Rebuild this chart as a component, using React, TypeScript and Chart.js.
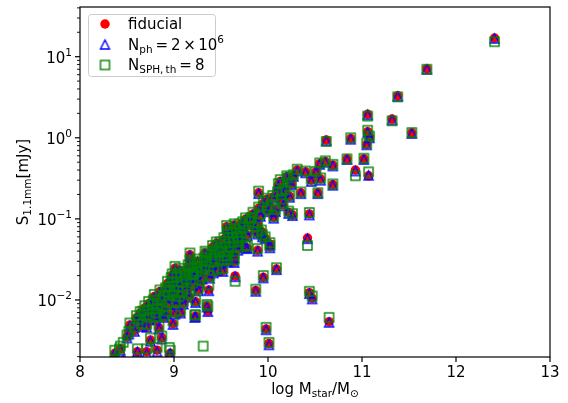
import React, { useEffect, useRef } from 'react';
import { Chart, registerables } from 'chart.js';

Chart.register(...registerables);

// ---- data (log stellar mass, 1.1mm flux in mJy for three runs) ----
const logMstar = [
  12.41, 11.69, 11.38, 11.32, 11.53, 11.06, 11.06, 11.08, 11.05, 10.62,
  10.88, 10.84, 11.02, 10.93, 11.07, 10.69, 10.53, 10.35, 10.18, 10.31,
  10.40, 10.51, 10.56, 10.61, 10.55, 10.69, 10.46, 10.21, 10.25, 10.20,
  10.27, 10.23, 10.15, 10.10, 9.90, 9.99, 10.14, 9.90, 10.03, 10.08,
  10.16, 10.22, 10.26, 10.44, 10.06, 9.76, 9.82, 9.89, 10.42, 9.93,
  9.94, 9.97, 10.02, 9.89, 9.76, 9.64, 9.57, 9.65, 9.95, 10.09,
  9.87, 10.44, 10.47, 10.65, 10.01, 9.98, 9.36, 9.31, 9.23, 9.07,
  8.99, 8.95, 8.37, 9.78, 9.89, 10.02,
  9.82, 9.73, 9.64, 9.60, 9.57, 9.78, 9.69, 9.49, 9.46, 9.35,
  9.25, 9.64, 9.53, 9.33, 9.17, 9.01, 8.98, 8.93, 8.85, 8.78,
  9.46, 9.37, 9.35, 9.26, 9.23, 9.10, 8.98, 8.77, 8.64, 8.53,
  8.52, 8.43, 8.37, 8.61, 8.71, 8.82, 8.96, 8.75, 8.87, 9.01,
  8.71, 8.84, 8.89, 9.56, 9.45, 9.17, 8.50, 8.67, 9.22, 9.56,
  8.42, 8.46,
  8.62, 8.66, 8.68, 8.72, 8.74, 8.80, 8.82, 8.86, 8.88, 8.90,
  8.93, 8.94, 8.96, 8.99, 9.00, 9.03, 9.04, 9.05, 9.07, 9.08,
  9.12, 9.13, 9.14, 9.18, 9.19, 9.20, 9.22, 9.24, 9.28, 9.29,
  9.30, 9.32, 9.33, 9.39, 9.40, 9.42, 9.43, 9.50, 9.51, 9.53,
  9.55, 9.59, 9.61, 9.62, 9.66, 9.67, 9.70, 9.71, 9.74, 9.80,
  9.84, 9.86, 9.92, 9.95, 10.00, 10.05, 10.11, 10.13,
  8.58, 8.60, 8.69, 8.73, 8.79, 8.81, 8.85, 8.91, 8.92, 8.97,
  9.02, 9.06, 9.09, 9.11, 9.15, 9.16, 9.21, 9.25, 9.27, 9.34,
  9.38, 9.41, 9.44, 9.48, 9.52, 9.58, 9.63, 9.68, 9.72,
];

const sFiducial = [
  17.0, 7.1, 3.3, 1.70, 1.15, 1.95, 1.19, 1.03, 0.83, 0.94,
  0.98, 0.55, 0.55, 0.40, 0.34, 0.265, 0.21, 0.21, 0.22, 0.40,
  0.38, 0.38, 0.31, 0.51, 0.48, 0.46, 0.30, 0.31, 0.27, 0.33,
  0.34, 0.19, 0.215, 0.21, 0.21, 0.175, 0.17, 0.135, 0.14, 0.126,
  0.149, 0.12, 0.112, 0.115, 0.105, 0.099, 0.10, 0.087, 0.058, 0.070,
  0.061, 0.058, 0.049, 0.041, 0.045, 0.0297, 0.030, 0.0198, 0.019, 0.0241,
  0.0131, 0.0123, 0.0105, 0.0054, 0.0029, 0.0044, 0.0073, 0.0016, 0.0063, 0.0070,
  0.0051, 0.0021, 0.0019, 0.0435, 0.066, 0.045,
  0.097, 0.089, 0.084, 0.073, 0.066, 0.063, 0.050, 0.050, 0.041, 0.036,
  0.030, 0.034, 0.034, 0.038, 0.0297, 0.0246, 0.0203, 0.016, 0.0127, 0.0095,
  0.0234, 0.0133, 0.0084, 0.0133, 0.0095, 0.0091, 0.011, 0.0085, 0.0069, 0.0049,
  0.0039, 0.0025, 0.0022, 0.0023, 0.0023, 0.0024, 0.0022, 0.0032, 0.0034, 0.0069,
  0.0047, 0.0045, 0.0062, 0.080, 0.050, 0.036, 0.0035, 0.0069, 0.0062, 0.0337,
  0.0017, 0.0018,
  0.0055, 0.0048, 0.0062, 0.0072, 0.0058, 0.0066, 0.0081, 0.0095, 0.0078, 0.0108,
  0.0120, 0.0090, 0.0140, 0.0160, 0.0125, 0.0185, 0.0140, 0.0105, 0.0200, 0.0160,
  0.0215, 0.0175, 0.0130, 0.0240, 0.0195, 0.0155, 0.0270, 0.0215, 0.0280, 0.0230,
  0.0185, 0.0315, 0.0255, 0.0340, 0.0280, 0.0220, 0.0380, 0.0420, 0.0290, 0.0560,
  0.0470, 0.0560, 0.0420, 0.0640, 0.0700, 0.0580, 0.0820, 0.0650, 0.0750, 0.0880,
  0.1150, 0.0760, 0.1100, 0.1550, 0.1250, 0.1850, 0.2600, 0.2900,
  0.0042, 0.0060, 0.0080, 0.0090, 0.0110, 0.0058, 0.0072, 0.0135, 0.0068, 0.0180,
  0.0090, 0.0235, 0.0120, 0.0190, 0.0260, 0.0110, 0.0200, 0.0245, 0.0165, 0.0290,
  0.0190, 0.0450, 0.0310, 0.0370, 0.0230, 0.0380, 0.0490, 0.0420, 0.0560,
];

const sNph = [
  16.8, 7.0, 3.25, 1.66, 1.13, 1.92, 1.17, 1.00, 0.82, 0.92,
  0.96, 0.54, 0.54, 0.39, 0.345, 0.26, 0.205, 0.205, 0.215, 0.39,
  0.37, 0.375, 0.30, 0.50, 0.47, 0.45, 0.29, 0.30, 0.265, 0.33,
  0.335, 0.185, 0.21, 0.205, 0.205, 0.17, 0.165, 0.13, 0.137, 0.123,
  0.145, 0.117, 0.11, 0.112, 0.102, 0.097, 0.098, 0.085, 0.057, 0.068,
  0.060, 0.057, 0.048, 0.040, 0.044, 0.029, 0.0295, 0.0194, 0.0187, 0.0237,
  0.0128, 0.0120, 0.0103, 0.0053, 0.0028, 0.0043, 0.0072, 0.0016, 0.0062, 0.0069,
  0.0050, 0.0021, 0.0019, 0.043, 0.065, 0.044,
  0.095, 0.087, 0.082, 0.071, 0.065, 0.062, 0.049, 0.049, 0.040, 0.035,
  0.0295, 0.033, 0.033, 0.037, 0.029, 0.024, 0.020, 0.0157, 0.0124, 0.0093,
  0.023, 0.013, 0.0082, 0.013, 0.0093, 0.0089, 0.0108, 0.0083, 0.0067, 0.0048,
  0.0038, 0.0024, 0.0022, 0.0023, 0.0022, 0.0023, 0.0022, 0.0031, 0.0033, 0.0067,
  0.0046, 0.0044, 0.0061, 0.078, 0.049, 0.035, 0.0034, 0.0068, 0.0061, 0.033,
  0.0017, 0.0018,
  0.0054, 0.0047, 0.0061, 0.0070, 0.0057, 0.0065, 0.0079, 0.0093, 0.0076, 0.0106,
  0.0117, 0.0088, 0.0137, 0.0157, 0.0122, 0.0181, 0.0137, 0.0103, 0.0196, 0.0157,
  0.0211, 0.0171, 0.0127, 0.0235, 0.0191, 0.0152, 0.0265, 0.0211, 0.0274, 0.0225,
  0.0181, 0.0309, 0.0250, 0.0333, 0.0274, 0.0216, 0.0372, 0.0412, 0.0284, 0.0549,
  0.0461, 0.0549, 0.0412, 0.0627, 0.0686, 0.0568, 0.0804, 0.0637, 0.0735, 0.0862,
  0.1127, 0.0745, 0.1078, 0.1519, 0.1225, 0.1813, 0.2548, 0.2842,
  0.0041, 0.0059, 0.0078, 0.0088, 0.0108, 0.0057, 0.0070, 0.0132, 0.0067, 0.0176,
  0.0088, 0.0230, 0.0118, 0.0186, 0.0255, 0.0108, 0.0196, 0.0240, 0.0162, 0.0284,
  0.0186, 0.0441, 0.0304, 0.0362, 0.0225, 0.0372, 0.0480, 0.0411, 0.0549,
];

const sSph = [
  15.3, 7.0, 3.2, 1.62, 1.16, 1.85, 1.24, 1.05, 0.86, 0.90,
  1.00, 0.55, 0.56, 0.34, 0.38, 0.27, 0.21, 0.215, 0.23, 0.41,
  0.39, 0.385, 0.32, 0.52, 0.49, 0.47, 0.31, 0.32, 0.28, 0.34,
  0.35, 0.195, 0.22, 0.215, 0.22, 0.18, 0.175, 0.14, 0.145, 0.13,
  0.155, 0.125, 0.116, 0.12, 0.108, 0.103, 0.104, 0.09, 0.047, 0.073,
  0.064, 0.060, 0.051, 0.043, 0.047, 0.031, 0.032, 0.017, 0.020, 0.025,
  0.0136, 0.0128, 0.0112, 0.0061, 0.0030, 0.0046, 0.0084, 0.0027, 0.0066, 0.0074,
  0.0055, 0.0026, 0.0018, 0.046, 0.069, 0.047,
  0.100, 0.092, 0.087, 0.076, 0.069, 0.066, 0.053, 0.052, 0.043, 0.038,
  0.032, 0.036, 0.035, 0.040, 0.031, 0.026, 0.021, 0.017, 0.0133, 0.0100,
  0.024, 0.0153, 0.0088, 0.014, 0.0100, 0.0096, 0.0116, 0.0089, 0.0072, 0.0052,
  0.0041, 0.0027, 0.0024, 0.0025, 0.0025, 0.0026, 0.0024, 0.0034, 0.0036, 0.0072,
  0.0050, 0.0048, 0.0065, 0.083, 0.052, 0.038, 0.0037, 0.0073, 0.0065, 0.035,
  0.0025, 0.0030,
  0.0058, 0.0051, 0.0066, 0.0076, 0.0061, 0.0070, 0.0085, 0.0100, 0.0082, 0.0114,
  0.0126, 0.0095, 0.0147, 0.0168, 0.0131, 0.0194, 0.0147, 0.0110, 0.0210, 0.0168,
  0.0226, 0.0184, 0.0137, 0.0252, 0.0205, 0.0163, 0.0283, 0.0226, 0.0294, 0.0241,
  0.0194, 0.0331, 0.0268, 0.0357, 0.0294, 0.0231, 0.0399, 0.0441, 0.0305, 0.0588,
  0.0494, 0.0588, 0.0441, 0.0672, 0.0735, 0.0609, 0.0861, 0.0683, 0.0788, 0.0924,
  0.1208, 0.0798, 0.1155, 0.1628, 0.1313, 0.1943, 0.2730, 0.3045,
  0.0046, 0.0064, 0.0085, 0.0096, 0.0117, 0.0062, 0.0077, 0.0141, 0.0073, 0.0190,
  0.0096, 0.0246, 0.0128, 0.0201, 0.0272, 0.0117, 0.0211, 0.0258, 0.0175, 0.0305,
  0.0201, 0.0470, 0.0326, 0.0390, 0.0244, 0.0400, 0.0514, 0.0443, 0.0586,
];

// axis ticks
const xTickValues = [8, 9, 10, 11, 12, 13];
const yTickExps = [-2, -1, 0, 1];
const X_MIN = 8;
const X_MAX = 13;
const Y_MIN = 0.00198;
const Y_MAX = 41;

const FONT = '"DejaVu Sans"';
const FS = 15;

type Seg = { t: string; k?: 'sub' | 'sup'; gap?: number };

function segFont(s: Seg) {
  return `${s.k ? FS * 0.7 : FS}px ${FONT}`;
}
function richWidth(ctx: CanvasRenderingContext2D, segs: Seg[]) {
  let w = 0;
  for (const s of segs) {
    if (s.gap) { w += s.gap; continue; }
    ctx.font = segFont(s);
    w += ctx.measureText(s.t).width;
  }
  return w;
}
function drawRich(ctx: CanvasRenderingContext2D, segs: Seg[], x: number, y: number) {
  let cx = x;
  ctx.textAlign = 'left';
  ctx.textBaseline = 'alphabetic';
  for (const s of segs) {
    if (s.gap) { cx += s.gap; continue; }
    ctx.font = segFont(s);
    const dy = s.k === 'sub' ? 3 : s.k === 'sup' ? -6.5 : 0;
    ctx.fillText(s.t, cx, y + dy);
    cx += ctx.measureText(s.t).width;
  }
}

function makeTriangle(color: string) {
  const c = document.createElement('canvas');
  c.width = 13; c.height = 13;
  const g = c.getContext('2d')!;
  g.strokeStyle = color; g.lineWidth = 1.4;
  const h = 4.5, cx = 6.5, cy = 6.5;
  g.beginPath();
  g.moveTo(cx, cy - h); g.lineTo(cx - h, cy + h); g.lineTo(cx + h, cy + h);
  g.closePath(); g.stroke();
  return c;
}
function makeSquare(color: string) {
  const c = document.createElement('canvas');
  c.width = 13; c.height = 13;
  const g = c.getContext('2d')!;
  g.strokeStyle = color; g.lineWidth = 1.4;
  g.strokeRect(2, 2, 9, 9);
  return c;
}

export default function App() {
  const ref = useRef<HTMLCanvasElement | null>(null);
  useEffect(() => {
    const canvas = ref.current!;
    const tri = makeTriangle('#0000ff');
    const sq = makeSquare('#008000');

    const decorations = {
      id: 'decorations',
      afterDraw(chart: any) {
        const ctx: CanvasRenderingContext2D = chart.ctx;
        const a = chart.chartArea;
        const xs = chart.scales.x;
        const ys = chart.scales.y;
        ctx.save();
        // frame
        ctx.strokeStyle = '#000';
        ctx.lineWidth = 1.2;
        ctx.strokeRect(a.left, a.top, a.right - a.left, a.bottom - a.top);
        // x ticks
        ctx.fillStyle = '#000';
        for (const t of xTickValues) {
          const px = xs.getPixelForValue(t);
          ctx.beginPath(); ctx.moveTo(px, a.bottom); ctx.lineTo(px, a.bottom + 5); ctx.stroke();
          ctx.font = `${FS}px ${FONT}`;
          ctx.textAlign = 'center'; ctx.textBaseline = 'alphabetic';
          ctx.fillText(String(t), px, a.bottom + 20);
        }
        // y minor ticks
        ctx.lineWidth = 0.9;
        for (let e = -3; e <= 1; e++) {
          for (let k = 2; k <= 9; k++) {
            const v = k * Math.pow(10, e);
            if (v < Y_MIN || v > Y_MAX) continue;
            const py = ys.getPixelForValue(v);
            ctx.beginPath(); ctx.moveTo(a.left, py); ctx.lineTo(a.left - 3, py); ctx.stroke();
          }
        }
        // y major ticks + labels
        ctx.lineWidth = 1.2;
        for (const e of yTickExps) {
          const py = ys.getPixelForValue(Math.pow(10, e));
          ctx.beginPath(); ctx.moveTo(a.left, py); ctx.lineTo(a.left - 5, py); ctx.stroke();
          const segs: Seg[] = [{ t: '10' }, { t: e < 0 ? '\u2212' + Math.abs(e) : String(e), k: 'sup' }];
          const w = richWidth(ctx, segs);
          drawRich(ctx, segs, a.left - 8 - w, py + 6);
        }
        // x title
        const xt: Seg[] = [{ t: 'log M' }, { t: 'star', k: 'sub' }, { t: '/M' }, { t: '\u2299', k: 'sub' }];
        const xw = richWidth(ctx, xt);
        drawRich(ctx, xt, (a.left + a.right) / 2 - xw / 2, 394);
        // y title
        const yt: Seg[] = [{ t: 'S' }, { t: '1.1mm', k: 'sub' }, { t: '[mJy]' }];
        const yw = richWidth(ctx, yt);
        ctx.save();
        ctx.translate(28, (a.top + a.bottom) / 2);
        ctx.rotate(-Math.PI / 2);
        drawRich(ctx, yt, -yw / 2, 0);
        ctx.restore();
        // legend
        ctx.beginPath();
        (ctx as any).roundRect(88.5, 14.5, 127, 62, 3);
        ctx.fillStyle = 'rgba(255,255,255,0.8)';
        ctx.fill();
        ctx.strokeStyle = '#cccccc';
        ctx.lineWidth = 1;
        ctx.stroke();
        const mx = 105;
        const rows = [24, 44.5, 65];
        ctx.fillStyle = '#ff0000';
        ctx.beginPath(); ctx.arc(mx, rows[0], 4.75, 0, Math.PI * 2); ctx.fill();
        ctx.drawImage(tri, mx - 6.5, rows[1] - 6.5);
        ctx.drawImage(sq, mx - 6.5, rows[2] - 6.5);
        ctx.fillStyle = '#000';
        drawRich(ctx, [{ t: 'fiducial' }], 128, rows[0] + 5.3);
        drawRich(ctx, [{ t: 'N' }, { t: 'ph', k: 'sub' }, { gap: 3 }, { t: '=' }, { gap: 3 }, { t: '2' }, { gap: 2.5 }, { t: '\u00d7' }, { gap: 2.5 }, { t: '10' }, { t: '6', k: 'sup' }], 128, rows[1] + 5.2);
        drawRich(ctx, [{ t: 'N' }, { t: 'SPH,\u2009th', k: 'sub' }, { gap: 3 }, { t: '=' }, { gap: 3 }, { t: '8' }], 128, rows[2] + 5.2);
        ctx.restore();
      },
    };

    const pts = (ys: number[]) => logMstar.map((x, i) => ({ x, y: ys[i] }));

    const chart = new Chart(canvas, {
      type: 'scatter',
      data: {
        datasets: [
          {
            label: 'fiducial',
            data: pts(sFiducial),
            pointStyle: 'circle',
            pointRadius: 4.75,
            backgroundColor: '#ff0000',
            borderColor: '#ff0000',
            borderWidth: 0,
            order: 3,
            clip: 0,
          },
          {
            label: 'N_ph = 2x10^6',
            data: pts(sNph),
            pointStyle: tri as any,
            pointRadius: 5,
            order: 2,
            clip: 0,
          },
          {
            label: 'N_SPH,th = 8',
            data: pts(sSph),
            pointStyle: sq as any,
            pointRadius: 5,
            order: 1,
            clip: 0,
          },
        ],
      },
      options: {
        animation: false,
        responsive: false,
        events: [],
        layout: { padding: { left: 80, top: 7, right: 18, bottom: 46 } },
        scales: {
          x: { type: 'linear', display: false, min: X_MIN, max: X_MAX },
          y: { type: 'logarithmic', display: false, min: Y_MIN, max: Y_MAX },
        },
        plugins: { legend: { display: false }, tooltip: { enabled: false } },
      } as any,
      plugins: [decorations],
    });
    return () => chart.destroy();
  }, []);

  return (
    <div style={{ position: 'absolute', left: 0, top: 0, width: 568, height: 403, background: '#fff' }}>
      <canvas ref={ref} width={568} height={403} style={{ width: 568, height: 403, display: 'block' }} />
    </div>
  );
}
